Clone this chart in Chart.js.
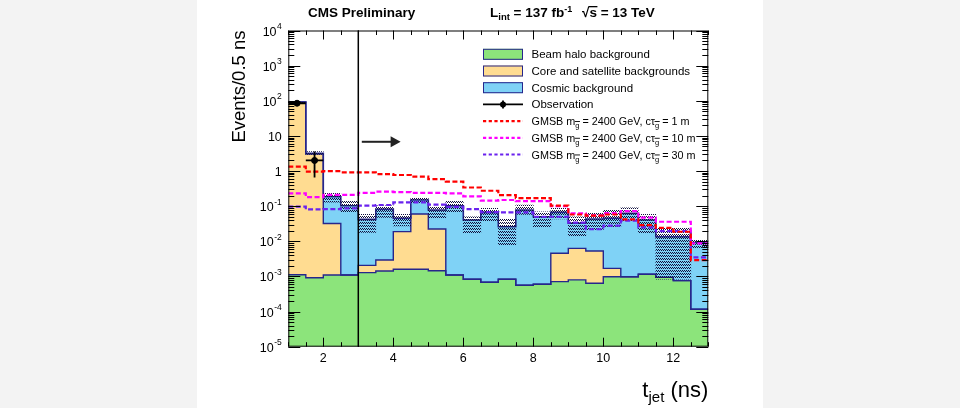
<!DOCTYPE html>
<html>
<head>
<meta charset="utf-8">
<script src="https://cdn.jsdelivr.net/npm/chart.js@4.4.1/dist/chart.umd.min.js"></script>
<style>
  html, body { margin: 0; padding: 0; background: #f3f3f3; }
  #wrap { position: relative; width: 960px; height: 408px; }
  #panel { position: absolute; left: 197px; top: 0; width: 566px; height: 408px; background: #fff; }
  canvas { position: absolute; left: 0; top: 0; }
</style>
</head>
<body>
<div id="wrap"><div id="panel"></div><canvas id="c" width="960" height="408"></canvas></div>
<script>
// =============================
// Datos (bins de 0.5 ns, borde inferior)
// =============================
const binLow = [1, 1.5, 2, 2.5, 3, 3.5, 4, 4.5, 5, 5.5, 6, 6.5, 7, 7.5, 8, 8.5, 9, 9.5, 10, 10.5, 11, 11.5, 12, 12.5];
const xMin = 1, xMax = 13;

const beamHalo = [1.12e-3, 9.2e-4, 1.1e-3, 1.1e-3, 1.28e-3, 1.43e-3, 1.6e-3, 1.6e-3, 1.45e-3, 1.1e-3, 8.3e-4, 6.8e-4,
                  8.3e-4, 5.6e-4, 6.0e-4, 7.1e-4, 8.0e-4, 6.4e-4, 9.8e-4, 9.8e-4, 1.15e-3, 9.4e-4, 7.6e-4, 1.16e-4];
const coreSat  = [92, 3.05, 0.031, 0, 7.9e-4, 1.5e-3, 0.0172, 0.058, 0.021, 0, 0, 0,
                  0, 0, 0, 3.84e-3, 5.5e-3, 4.65e-3, 7.2e-4, 0, 0, 0, 0, 0];
const cosmic   = [0.1, 0.15, 0.154, 0.102, 0.0401, 0.0784, 0.0263, 0.0904, 0.0552, 0.102, 0.0396, 0.0661,
                  0.0252, 0.0770, 0.0495, 0.0623, 0.0262, 0.0377, 0.0434, 0.0615, 0.0393, 0.0126, 0.0127, 0.0091];
const uncLo    = [88, 2.99, 0.129, 0.0695, 0.0180, 0.0482, 0.0272, 0.120, 0.0469, 0.0668, 0.0169, 0.0361,
                  0.00783, 0.0586, 0.0244, 0.0430, 0.0135, 0.0209, 0.0260, 0.0361, 0.0169, 0.00083, 0.00083, 0.0063];
const uncHi    = [97, 3.55, 0.232, 0.140, 0.0586, 0.103, 0.0586, 0.167, 0.0964, 0.140, 0.0501, 0.0869,
                  0.043, 0.108, 0.0695, 0.0869, 0.0501, 0.0625, 0.0776, 0.0904, 0.0586, 0.0234, 0.0234, 0.0109];

const sig1m  = [1.33, 0.96, 0.99, 0.92, 0.92, 0.82, 0.77, 0.69, 0.59, 0.50, 0.34, 0.275,
                0.207, 0.17, 0.17, 0.104, 0.058, 0.054, 0.058, 0.042, 0.029, 0.024, 0.0187, 0.0029];
const sig10m = [0.23, 0.18, 0.21, 0.21, 0.24, 0.26, 0.25, 0.24, 0.24, 0.23, 0.19, 0.143,
                0.15, 0.14, 0.14, 0.1, 0.062, 0.055, 0.063, 0.072, 0.047, 0.036, 0.036, 0.0087];
const sig30m = [0.097, 0.081, 0.082, 0.087, 0.103, 0.108, 0.129, 0.129, 0.11, 0.095, 0.082, 0.068,
                0.067, 0.067, 0.05, 0.05, 0.034, 0.022, 0.028, 0.039, 0.025, 0.0195, 0.0195, 0.0035];

const obsX  = [1.25, 1.75];
const obsY  = [85, 2];
const obsLo = [76, 0.65];
const obsHi = [95, 3.6];

const xTicks = [2, 4, 6, 8, 10, 12];
const yTickExps = [-5, -4, -3, -2, -1, 0, 1, 2, 3, 4];

const cutX = 3;                       // linea vertical del corte
const arrowX = [3.1, 4.21], arrowY = 6.8;

const FONT = "'Liberation Sans', Arial, Helvetica, sans-serif";
const NAVY = "#26268c";
const colHalo = "#8ce47b", colCore = "#ffdc91", colCosmic = "#7fd2f6";
const colSig = ["#ff0000", "#ff00ff", "#6a22ee"];

// =============================
// helpers
// =============================
function steps(vals) {
  const pts = binLow.map((x, i) => ({ x: x, y: vals[i] }));
  pts.push({ x: xMax, y: vals[vals.length - 1] });
  return pts;
}
const cumHalo = beamHalo.slice();
const cumCore = beamHalo.map((v, i) => v + coreSat[i]);
const cumTotal = cumCore.map((v, i) => v + cosmic[i]);

// trama de puntos (estilo ROOT 3xxx)
function dotPattern() {
  const c = document.createElement("canvas");
  c.width = 2; c.height = 3;
  const g = c.getContext("2d");
  g.fillStyle = "#10103c";
  g.fillRect(0, 0, 1, 1);
  g.fillRect(1, 1, 1, 1);
  return document.getElementById("c").getContext("2d").createPattern(c, "repeat");
}

const errPts = [];
obsX.forEach((x, i) => {
  errPts.push({ x: x, y: obsLo[i] }, { x: x, y: obsHi[i] }, { x: x, y: null });
  errPts.push({ x: x - 0.25, y: obsY[i] }, { x: x + 0.25, y: obsY[i] }, { x: x, y: null });
});

// rich text: segmentos con fuente y desplazamiento
function richText(ctx, x, y, segs) {
  let cx = x;
  segs.forEach(s => {
    ctx.font = s.f;
    const yy = y + (s.dy || 0);
    ctx.fillText(s.t, cx, yy);
    const w = ctx.measureText(s.t).width;
    if (s.over) {
      ctx.fillRect(cx - 0.5, yy - s.over, w + 1, s.overW || 1.3);
    }
    cx += w;
  });
  return cx;
}

// =============================
// Plugin: ejes estilo ROOT, leyenda y textos
// =============================
const rootStyle = {
  id: "rootStyle",
  afterDatasetsDraw(chart) {
    const { ctx, chartArea: a, scales: { x, y } } = chart;
    ctx.save();
    ctx.strokeStyle = "#000";

    // corte en t = 3 ns
    const cx = x.getPixelForValue(cutX);
    ctx.lineWidth = 1.5;
    ctx.beginPath(); ctx.moveTo(cx, a.top); ctx.lineTo(cx, a.bottom); ctx.stroke();

    // flecha
    const ax0 = x.getPixelForValue(arrowX[0]), ax1 = x.getPixelForValue(arrowX[1]);
    const ay = y.getPixelForValue(arrowY);
    ctx.strokeStyle = "#222"; ctx.fillStyle = "#222"; ctx.lineWidth = 2;
    ctx.beginPath(); ctx.moveTo(ax0, ay); ctx.lineTo(ax1 - 8, ay); ctx.stroke();
    ctx.beginPath(); ctx.moveTo(ax1, ay); ctx.lineTo(ax1 - 10, ay - 5.5); ctx.lineTo(ax1 - 10, ay + 5.5); ctx.closePath(); ctx.fill();

    // marco
    ctx.strokeStyle = "#000"; ctx.lineWidth = 1;
    ctx.strokeRect(a.left + 0.5, a.top + 0.5, a.right - a.left - 1, a.bottom - a.top - 1);

    // ticks x
    ctx.beginPath();
    for (let v = xMin; v <= xMax + 1e-9; v += 0.5) {
      const px = Math.round(x.getPixelForValue(v)) + 0.5;
      const len = xTicks.includes(v) ? 9 : 4.5;
      ctx.moveTo(px, a.bottom); ctx.lineTo(px, a.bottom - len);
      ctx.moveTo(px, a.top); ctx.lineTo(px, a.top + len);
    }
    // ticks y (log)
    for (let n = yTickExps[0]; n < yTickExps[yTickExps.length - 1]; n++) {
      for (let k = 1; k <= 9; k++) {
        const py = Math.round(y.getPixelForValue(k * Math.pow(10, n))) + 0.5;
        const len = k === 1 ? 12 : 6;
        ctx.moveTo(a.left, py); ctx.lineTo(a.left + len, py);
        ctx.moveTo(a.right, py); ctx.lineTo(a.right - len, py);
      }
    }
    const pTop = Math.round(y.getPixelForValue(1e4)) + 0.5;
    ctx.moveTo(a.left, pTop); ctx.lineTo(a.left + 12, pTop);
    ctx.moveTo(a.right, pTop); ctx.lineTo(a.right - 12, pTop);
    ctx.stroke();

    // etiquetas y
    ctx.fillStyle = "#000";
    ctx.textAlign = "right";
    ctx.textBaseline = "alphabetic";
    yTickExps.forEach(e => {
      const py = y.getPixelForValue(Math.pow(10, e));
      const xr = a.left - 6.5;
      if (e === 0 || e === 1) {
        ctx.font = "12.5px " + FONT;
        ctx.fillText(e === 0 ? "1" : "10", xr, py + 5);
      } else {
        ctx.font = "8.5px " + FONT;
        const et = String(e);
        ctx.fillText(et, xr, py - 1.5);
        const ew = ctx.measureText(et).width;
        ctx.font = "12.5px " + FONT;
        ctx.fillText("10", xr - ew - 0.5, py + 5);
      }
    });
    ctx.restore();
  },
  afterDraw(chart) {
    const { ctx, chartArea: a } = chart;
    ctx.save();
    ctx.fillStyle = "#000";
    ctx.textAlign = "left";
    ctx.textBaseline = "alphabetic";

    // titulo eje x: t_jet (ns)
    ctx.font = "22px " + FONT;
    const wT = ctx.measureText("t").width;
    const wN = ctx.measureText(" (ns)").width;
    ctx.font = "15px " + FONT;
    const wJ = ctx.measureText("jet").width;
    const x0 = a.right - (wT + wJ + wN);
    richText(ctx, x0, 397, [
      { t: "t", f: "22px " + FONT },
      { t: "jet", f: "15px " + FONT, dy: 5 },
      { t: " (ns)", f: "22px " + FONT }
    ]);

    // cabecera
    ctx.font = "bold 13.5px " + FONT;
    ctx.fillText("CMS Preliminary", 308, 17);
    richText(ctx, 490, 17, [
      { t: "L", f: "bold 13.5px " + FONT },
      { t: "int", f: "bold 9.5px " + FONT, dy: 3 },
      { t: " = 137 fb", f: "bold 13.5px " + FONT },
      { t: "-1", f: "bold 9px " + FONT, dy: -5.5 }
    ]);
    richText(ctx, 582, 17, [
      { t: "\u221A", f: "bold 13.5px " + FONT },
      { t: "s", f: "bold 13.5px " + FONT, over: 11 },
      { t: " = 13 TeV", f: "bold 13.5px " + FONT }
    ]);

    // leyenda
    const bx = 483, bw = 40, tx = 531.5;
    const rows = [54.3, 71, 87.7, 104.4, 121.1, 137.8, 154.5];
    const fills = [colHalo, colCore, colCosmic];
    const names = ["Beam halo background", "Core and satellite backgrounds", "Cosmic background"];
    const txtFont = "11.5px " + FONT;
    for (let i = 0; i < 3; i++) {
      ctx.fillStyle = fills[i];
      ctx.fillRect(bx, rows[i] - 5.5, bw, 11);
      ctx.strokeStyle = NAVY; ctx.lineWidth = 1;
      ctx.strokeRect(bx + 0.5, rows[i] - 5.5 + 0.5, bw - 1, 10);
      ctx.fillStyle = "#000"; ctx.font = txtFont;
      ctx.fillText(names[i], tx, rows[i] + 4);
    }
    // observacion
    const ry = rows[3];
    ctx.strokeStyle = "#000"; ctx.lineWidth = 1.8;
    ctx.beginPath();
    ctx.moveTo(bx, ry); ctx.lineTo(bx + bw, ry);
    ctx.moveTo(bx + bw / 2, ry - 4); ctx.lineTo(bx + bw / 2, ry + 4);
    ctx.stroke();
    ctx.beginPath(); ctx.arc(bx + bw / 2, ry, 3, 0, Math.PI * 2); ctx.fillStyle = "#000"; ctx.fill();
    ctx.font = txtFont; ctx.fillText("Observation", tx, ry + 4);
    // señales
    const ctau = ["1 m", "10 m", "30 m"];
    const sigFont = "10.8px " + FONT;
    for (let i = 0; i < 3; i++) {
      const yy = rows[4 + i];
      ctx.strokeStyle = colSig[i]; ctx.lineWidth = 2.2; ctx.setLineDash([3.2, 2.5]);
      ctx.beginPath(); ctx.moveTo(bx, yy); ctx.lineTo(bx + bw, yy); ctx.stroke();
      ctx.setLineDash([]);
      ctx.fillStyle = "#000";
      richText(ctx, tx, yy + 4, [
        { t: "GMSB m", f: sigFont },
        { t: "g", f: "7.5px " + FONT, dy: 3, over: 7, overW: 0.9 },
        { t: " = 2400 GeV, c\u03C4", f: sigFont },
        { t: "g", f: "7.5px " + FONT, dy: 3, over: 7, overW: 0.9 },
        { t: " = " + ctau[i], f: sigFont }
      ]);
    }
    ctx.restore();
  }
};

// =============================
// Datasets
// =============================
const datasets = [
  { type: "line", label: "Observation", data: obsX.map((x, i) => ({ x: x, y: obsY[i] })),
    showLine: false, pointRadius: 3, pointBackgroundColor: "#000", pointBorderColor: "#000", order: 0 },
  { type: "line", label: "obs err", data: errPts, borderColor: "#000", borderWidth: 1.8,
    pointRadius: 0, spanGaps: false, fill: false, order: 1 },
  { type: "line", label: "GMSB 1 m", data: steps(sig1m), stepped: true, borderColor: colSig[0],
    borderWidth: 2.2, borderDash: [5, 2.5], pointRadius: 0, fill: false, order: 2 },
  { type: "line", label: "GMSB 10 m", data: steps(sig10m), stepped: true, borderColor: colSig[1],
    borderWidth: 2.2, borderDash: [5, 2.5], pointRadius: 0, fill: false, order: 2 },
  { type: "line", label: "GMSB 30 m", data: steps(sig30m), stepped: true, borderColor: colSig[2],
    borderWidth: 2.2, borderDash: [5, 2.5], pointRadius: 0, fill: false, order: 2 },
  { type: "bar", label: "unc", data: binLow.map((x, i) => ({ x: x + 0.25, y: [uncLo[i], uncHi[i]] })),
    backgroundColor: dotPattern(), borderWidth: 0, barPercentage: 1, categoryPercentage: 1, order: 4 },
  { type: "line", label: "Beam halo background", data: steps(cumHalo), stepped: true,
    borderColor: NAVY, borderWidth: 1.4, backgroundColor: colHalo, pointRadius: 0, fill: "start", order: 7 },
  { type: "line", label: "Core and satellite backgrounds", data: steps(cumCore), stepped: true,
    borderColor: NAVY, borderWidth: 1.4, backgroundColor: colCore, pointRadius: 0, fill: "-1", order: 6 },
  { type: "line", label: "Cosmic background", data: steps(cumTotal), stepped: true,
    borderColor: NAVY, borderWidth: 1.6, backgroundColor: colCosmic, pointRadius: 0, fill: "-1", order: 5 }
];

new Chart(document.getElementById("c"), {
  type: "bar",
  data: { datasets: datasets },
  plugins: [rootStyle],
  options: {
    responsive: false,
    animation: false,
    events: [],
    layout: { padding: { left: 229, right: 251.7, top: 30.5, bottom: 0 } },
    plugins: {
      legend: { display: false },
      tooltip: { enabled: false },
      filler: { drawTime: "beforeDatasetsDraw" }
    },
    scales: {
      x: {
        type: "linear", min: xMin, max: xMax, offset: false,
        grid: { display: false, drawTicks: false, offset: false },
        border: { display: false },
        afterBuildTicks: s => { s.ticks = xTicks.map(v => ({ value: v })); },
        afterFit: s => { s.height = 61.3; },
        ticks: { color: "#000", font: { size: 12.5, family: FONT }, padding: 4, maxRotation: 0, autoSkip: false }
      },
      y: {
        type: "logarithmic", min: 1e-5, max: 1e4,
        grid: { display: false, drawTicks: false },
        border: { display: false },
        ticks: { display: false },
        afterFit: s => { s.width = 59.3; },
        title: { display: true, text: "Events/0.5 ns", align: "end", color: "#000",
                 font: { size: 18.5, family: FONT }, padding: 0 }
      }
    }
  }
});
</script>
</body>
</html>
